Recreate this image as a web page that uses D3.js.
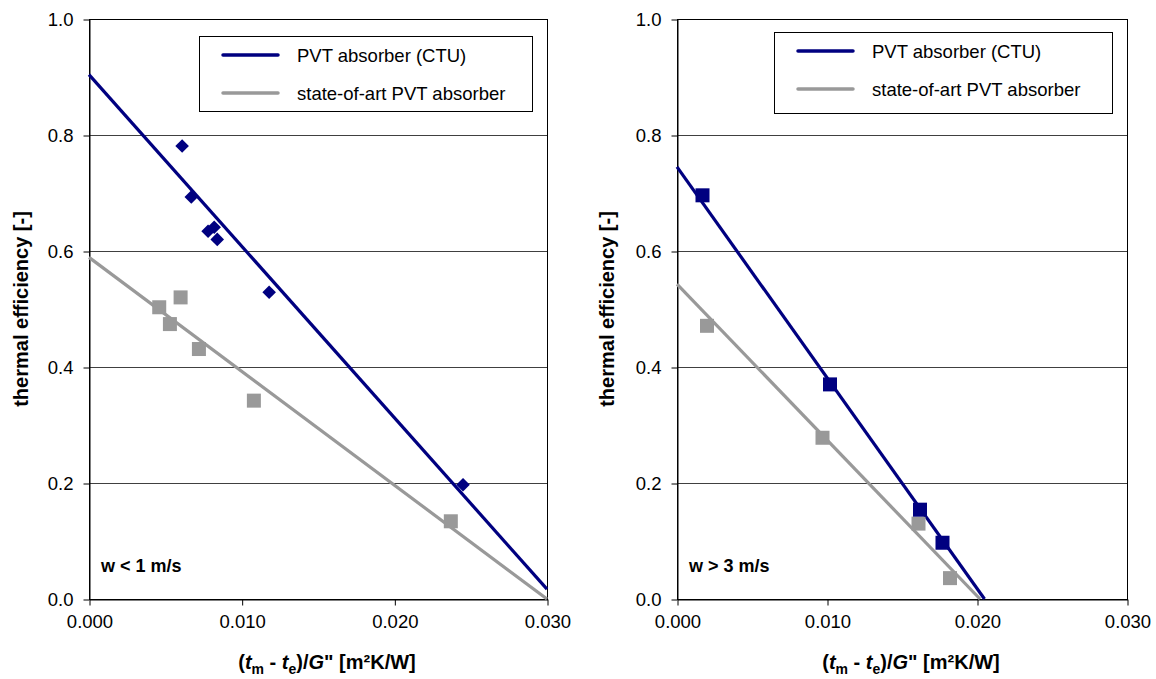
<!DOCTYPE html>
<html>
<head>
<meta charset="utf-8">
<script src="https://cdn.jsdelivr.net/npm/d3@7"></script>
<style>
  body { margin: 0; background: #fff; }
  svg { font-family: Arial, "Liberation Sans", sans-serif; }
</style>
</head>
<body>
<svg id="chart" width="1156" height="679"></svg>
<script>
// --- data ---
const xTicks = [0, 0.010, 0.020, 0.030];
const yTicks = [0, 0.2, 0.4, 0.6, 0.8, 1.0];
const seriesNames = ["PVT absorber (CTU)", "state-of-art PVT absorber"];

// left panel: w < 1 m/s
const leftCtuPoints = [[0.0061, 0.781], [0.0067, 0.693], [0.0078, 0.634], [0.0082, 0.641], [0.0084, 0.620], [0.0118, 0.529], [0.0245, 0.197]];
const leftRefPoints = [[0.0046, 0.503], [0.0060, 0.520], [0.0053, 0.474], [0.0072, 0.431], [0.0108, 0.342], [0.0237, 0.134]];
const leftCtuLine = [[0, 0.904], [0.030, 0.017]];
const leftRefLine = [[0, 0.589], [0.030, 0.0]];

// right panel: w > 3 m/s
const rightCtuPoints = [[0.0017, 0.696], [0.0102, 0.370], [0.0162, 0.154], [0.0177, 0.097]];
const rightRefPoints = [[0.0020, 0.471], [0.0097, 0.278], [0.0161, 0.130], [0.0182, 0.036]];
const rightCtuLine = [[0, 0.745], [0.0205, 0.0]];
const rightRefLine = [[0, 0.543], [0.0202, 0.0]];

const navy = "#000080";
const grey = "#999999";
const fs = 18.5;   // ticks, legend
const tfs = 20;    // axis titles

const svg = d3.select("#chart");

function drawPanel(cfg) {
  const x = d3.scaleLinear().domain([0, 0.030]).range([cfg.left, cfg.right]);
  const y = d3.scaleLinear().domain([0, 1.0]).range([599, 19]);
  const g = svg.append("g");

  // gridlines
  g.selectAll(".grid").data(yTicks.filter(d => d > 0 && d < 1)).enter()
    .append("line")
    .attr("x1", cfg.left).attr("x2", cfg.right)
    .attr("y1", d => y(d) + 0.5).attr("y2", d => y(d) + 0.5)
    .attr("stroke", "#404040").attr("stroke-width", 1);

  // plot border
  g.append("rect")
    .attr("x", cfg.left + 0.5).attr("y", y(1) + 0.5)
    .attr("width", cfg.right - cfg.left).attr("height", y(0) - y(1))
    .attr("fill", "none").attr("stroke", "#000").attr("stroke-width", 1);

  // axes
  const yAxis = d3.axisLeft(y).tickValues(yTicks).tickFormat(d3.format(".1f"))
    .tickSizeInner(6).tickSizeOuter(0).tickPadding(10);
  g.append("g").attr("transform", `translate(${cfg.left + 0.5},0.5)`).call(yAxis)
    .call(a => a.select(".domain").attr("stroke", "#000"))
    .call(a => a.selectAll("text").attr("font-size", fs).attr("fill", "#000"));

  const xAxis = d3.axisBottom(x).tickValues(xTicks).tickFormat(d3.format(".3f"))
    .tickSizeInner(6).tickSizeOuter(0).tickPadding(9);
  g.append("g").attr("transform", `translate(0.5,${y(0) + 0.5})`).call(xAxis)
    .call(a => a.select(".domain").attr("stroke", "#000"))
    .call(a => a.selectAll("text").attr("font-size", fs).attr("fill", "#000"));

  // fit lines
  const line = d3.line().x(d => x(d[0])).y(d => y(d[1]));
  g.append("path").attr("d", line(cfg.refLine)).attr("fill", "none")
    .attr("stroke", grey).attr("stroke-width", 3.2);
  g.append("path").attr("d", line(cfg.ctuLine)).attr("fill", "none")
    .attr("stroke", navy).attr("stroke-width", 3.2);

  // markers
  g.selectAll(".ref").data(cfg.refPoints).enter().append("rect")
    .attr("x", d => x(d[0]) - 7).attr("y", d => y(d[1]) - 7)
    .attr("width", 14).attr("height", 14).attr("fill", grey);

  if (cfg.diamonds) {
    g.selectAll(".ctu").data(cfg.ctuPoints).enter().append("rect")
      .attr("x", -4.8).attr("y", -4.8).attr("width", 9.6).attr("height", 9.6)
      .attr("transform", d => `translate(${x(d[0])},${y(d[1])}) rotate(45)`)
      .attr("fill", navy);
  } else {
    g.selectAll(".ctu").data(cfg.ctuPoints).enter().append("rect")
      .attr("x", d => x(d[0]) - 7).attr("y", d => y(d[1]) - 7)
      .attr("width", 14).attr("height", 14).attr("fill", navy);
  }

  // legend
  const lg = g.append("g");
  lg.append("rect")
    .attr("x", cfg.legend[0] + 0.5).attr("y", cfg.legend[1] + 0.5)
    .attr("width", cfg.legend[2]).attr("height", cfg.legend[3])
    .attr("fill", "#fff").attr("stroke", "#000");
  [navy, grey].forEach((c, i) => {
    const ly = cfg.legend[1] + 19 + i * 38;
    lg.append("line")
      .attr("x1", cfg.legend[0] + 24).attr("x2", cfg.legend[0] + 79)
      .attr("y1", ly).attr("y2", ly)
      .attr("stroke", c).attr("stroke-width", 3.5).attr("stroke-linecap", "round");
    lg.append("text")
      .attr("x", cfg.legend[0] + 98).attr("y", ly + 6.5)
      .attr("font-size", fs).text(seriesNames[i]);
  });

  // wind label
  g.append("text").attr("x", cfg.left + 12).attr("y", 572)
    .attr("font-size", 18).attr("font-weight", "bold").text(cfg.windLabel);

  // y title
  g.append("text")
    .attr("transform", `translate(${cfg.yTitleX},309) rotate(-90)`)
    .attr("text-anchor", "middle").attr("font-size", tfs).attr("font-weight", "bold")
    .text("thermal efficiency [-]");

  // x title
  const xt = g.append("text")
    .attr("x", (cfg.left + cfg.right) / 2 + 9).attr("y", 669)
    .attr("text-anchor", "middle").attr("font-size", tfs).attr("font-weight", "bold");
  xt.append("tspan").text("(");
  xt.append("tspan").attr("font-style", "italic").text("t");
  xt.append("tspan").attr("font-size", 14).attr("dy", 5).text("m");
  xt.append("tspan").attr("dy", -5).text(" - ");
  xt.append("tspan").attr("font-style", "italic").text("t");
  xt.append("tspan").attr("font-size", 14).attr("dy", 5).text("e");
  xt.append("tspan").attr("dy", -5).text(")/");
  xt.append("tspan").attr("font-style", "italic").text("G");
  xt.append("tspan").text("\" [m²K/W]");
}

drawPanel({
  left: 89, right: 547,
  ctuPoints: leftCtuPoints, refPoints: leftRefPoints,
  ctuLine: leftCtuLine, refLine: leftRefLine,
  diamonds: true,
  legend: [199, 36, 333, 75],
  windLabel: "w < 1 m/s",
  yTitleX: 28
});

drawPanel({
  left: 677, right: 1127,
  ctuPoints: rightCtuPoints, refPoints: rightRefPoints,
  ctuLine: rightCtuLine, refLine: rightRefLine,
  diamonds: false,
  legend: [774, 32, 338, 81],
  windLabel: "w > 3 m/s",
  yTitleX: 614
});
</script>
</body>
</html>
